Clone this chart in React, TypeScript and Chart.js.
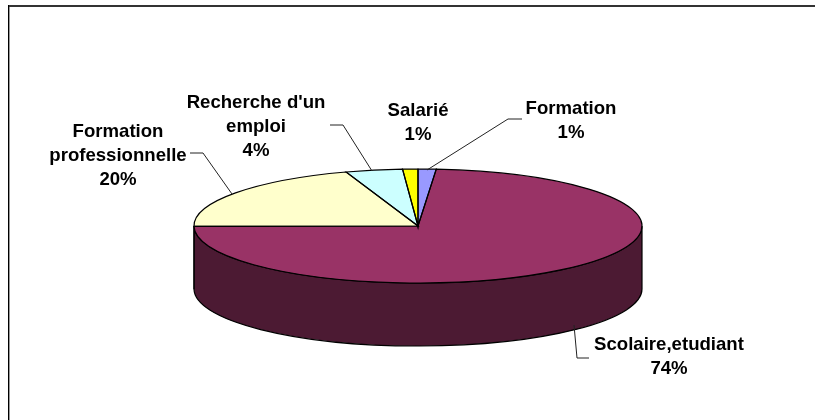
import { useEffect, useRef } from "react";
import { Chart, registerables } from "chart.js";

Chart.register(...registerables);

const categories = ["Formation", "Scolaire,etudiant", "Formation professionnelle", "Recherche d'un emploi", "Salarié"];
const values = [1.3, 73.6, 19.9, 4.1, 1.1];
const topColors = ["#9999FF", "#993366", "#FFFFCC", "#CCFFFF", "#FFFF00"];
const sideColors = ["#4C4C80", "#4C1A33", "#808066", "#668080", "#808000"];
const labelLines = [
  ["Formation"],
  ["Scolaire,etudiant"],
  ["Formation", "professionnelle"],
  ["Recherche d'un", "emploi"],
  ["Salarié"],
];

const ELLIPSE = { cx: 418, cy: 226, rx: 224, ry: 57, depth: 63 };
const labelBoxes = [
  { x: 571, y: 109 },
  { x: 669, y: 345 },
  { x: 118, y: 132 },
  { x: 256, y: 103 },
  { x: 418, y: 111 },
];
const leaders: number[][][] = [
  [[427, 170], [508, 119], [522, 119]],
  [[574, 325], [577, 358], [589, 358]],
  [[232, 194], [203, 153], [190, 153]],
  [[372, 171], [343, 125], [330, 125]],
  [],
];
const FONT = 'bold 18.6px "Liberation Sans", Arial, sans-serif';
const LINE_HEIGHT = 24;

const pie3d = {
  id: "pie3d",
  beforeDatasetsDraw(chart: any) {
    const ctx = chart.ctx;
    const { cx, cy, rx, ry, depth } = ELLIPSE;
    const arcs = chart.getDatasetMeta(0).data;
    ctx.save();
    ctx.lineWidth = 1.2;
    ctx.strokeStyle = "#000";
    const norm = (a: number) => {
      let v = a % (Math.PI * 2);
      if (v < -Math.PI / 2) v += Math.PI * 2;
      return v;
    };
    arcs.forEach((arc: any, i: number) => {
      const s = norm(arc.startAngle);
      const e = s + (arc.endAngle - arc.startAngle);
      const a0 = Math.max(s, 0);
      const a1 = Math.min(e, Math.PI);
      if (a1 <= a0) return;
      ctx.beginPath();
      ctx.ellipse(cx, cy, rx, ry, 0, a0, a1);
      ctx.ellipse(cx, cy + depth, rx, ry, 0, a1, a0, true);
      ctx.closePath();
      ctx.fillStyle = sideColors[i];
      ctx.fill();
      ctx.stroke();
    });
    ctx.restore();
    const first = arcs[0];
    const k = first.outerRadius;
    ctx.save();
    ctx.translate(cx, cy);
    ctx.scale(rx / k, ry / k);
    ctx.translate(-first.x, -first.y);
  },
  afterDatasetsDraw(chart: any) {
    const ctx = chart.ctx;
    ctx.restore();
    const { cx, cy, rx, ry } = ELLIPSE;
    const arcs = chart.getDatasetMeta(0).data;
    const total = values.reduce((a, b) => a + b, 0);
    ctx.save();
    ctx.lineWidth = 1.2;
    ctx.strokeStyle = "#000";
    arcs.forEach((arc: any) => {
      ctx.beginPath();
      ctx.moveTo(cx, cy);
      ctx.ellipse(cx, cy, rx, ry, 0, arc.startAngle, arc.endAngle);
      ctx.closePath();
      ctx.stroke();
    });
    ctx.lineWidth = 1;
    ctx.strokeStyle = "#222";
    leaders.forEach((pts) => {
      if (!pts.length) return;
      ctx.beginPath();
      pts.forEach((p, i) => (i ? ctx.lineTo(p[0], p[1]) : ctx.moveTo(p[0], p[1])));
      ctx.stroke();
    });
    ctx.fillStyle = "#000";
    ctx.font = FONT;
    ctx.textAlign = "center";
    ctx.textBaseline = "middle";
    categories.forEach((_, i) => {
      const lines = [...labelLines[i], `${Math.round((values[i] / total) * 100)}%`];
      lines.forEach((t, j) => ctx.fillText(t, labelBoxes[i].x, labelBoxes[i].y + j * LINE_HEIGHT));
    });
    ctx.restore();
  },
  afterDraw(chart: any) {
    const ctx = chart.ctx;
    ctx.save();
    ctx.fillStyle = "#333";
    ctx.fillRect(8, 5, 807, 2);
    ctx.fillStyle = "#000";
    ctx.fillRect(8, 5, 1, 415);
    ctx.fillStyle = "#999";
    ctx.fillRect(9, 7, 1, 413);
    ctx.restore();
  },
};

export default function App() {
  const ref = useRef<HTMLCanvasElement>(null);
  useEffect(() => {
    const chart = new Chart(ref.current!, {
      type: "pie",
      data: {
        labels: categories,
        datasets: [{ data: values, backgroundColor: topColors, borderWidth: 0, clip: false } as any],
      },
      options: {
        animation: false,
        responsive: false,
        rotation: 0,
        plugins: { legend: { display: false }, tooltip: { enabled: false } },
      },
      plugins: [pie3d],
    });
    return () => chart.destroy();
  }, []);
  return (
    <div style={{ position: "fixed", left: 0, top: 0, width: 815, height: 420, background: "#fff" }}>
      <canvas ref={ref} width={815} height={420} style={{ display: "block" }} />
    </div>
  );
}
